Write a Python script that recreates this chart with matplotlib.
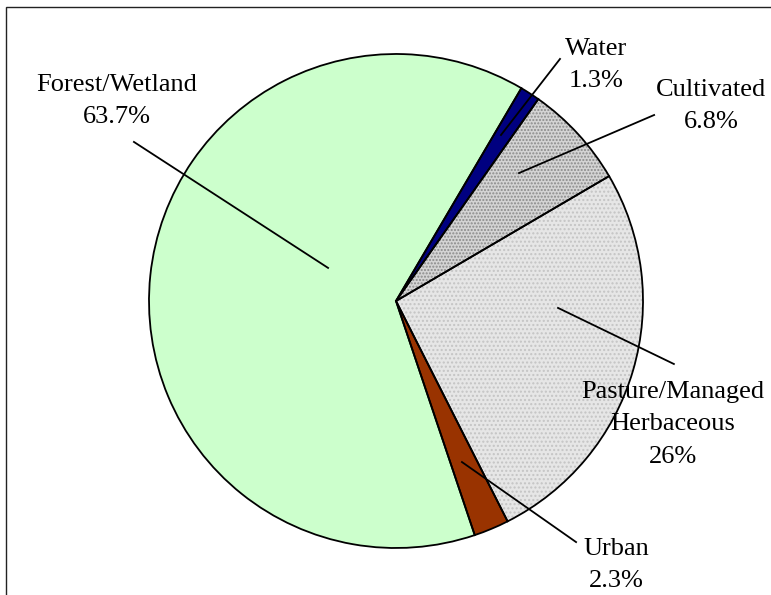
import matplotlib.pyplot as plt
from matplotlib.patches import Rectangle

# Land-use shares (percent), clockwise from the Water wedge
categories = ["Water", "Cultivated", "Pasture/Managed\nHerbaceous", "Urban", "Forest/Wetland"]
shares = [1.3, 6.8, 26.0, 2.3, 63.7]
share_labels = ["1.3%", "6.8%", "26%", "2.3%", "63.7%"]

colors = ["#000080", "#d4d4d4", "#e6e6e6", "#993300", "#ccffcc"]
hatches = [None, ".....", "....", None, None]
hatch_colors = ["#000080", "#8a8a8a", "#c4c4c4", "#993300", "#ccffcc"]

# label layout in pie units (radius = 1): text centre, leader start, leader end
text_pos = [(0.81, 0.955), (1.275, 0.79), (1.121, -0.50), (0.891, -1.07), (-1.132, 0.81)]
leader_from = [(0.425, 0.672), (0.498, 0.518), (0.656, -0.028), (0.267, -0.652), (-0.275, 0.134)]
leader_to = [(0.664, 0.980), (1.045, 0.753), (1.125, -0.255), (0.729, -0.976), (-1.061, 0.644)]

plt.rcParams["font.family"] = ["Liberation Serif", "DejaVu Serif"]

fig = plt.figure(figsize=(7.71, 5.95), dpi=100)
ax = fig.add_axes([0, 0, 1, 1])

# fills with stipple texture
fills, _ = ax.pie(shares, startangle=59.5, counterclock=False, colors=colors,
                  wedgeprops=dict(linewidth=0))
for w, h, hc in zip(fills, hatches, hatch_colors):
    if h:
        w.set_hatch(h)
        w.set_edgecolor(hc)

# outlines
ax.pie(shares, startangle=59.5, counterclock=False,
       wedgeprops=dict(fill=False, edgecolor="black", linewidth=1.3))

for name, pct, tp, p0, p1 in zip(categories, share_labels, text_pos, leader_from, leader_to):
    ax.plot([p0[0], p1[0]], [p0[1], p1[1]], color="black", linewidth=1.3)
    ax.text(tp[0], tp[1], name + "\n" + pct, ha="center", va="center",
            fontsize=19, linespacing=1.6)

ax.set_xlim(-396 / 247, (771 - 396) / 247)
ax.set_ylim((301 - 595) / 247, 301 / 247)
ax.set_aspect("auto")
ax.axis("off")

# chart-area frame (runs off the right and bottom edges)
fig.patches.append(Rectangle((6 / 771, -0.05), 1.1, 1 - 7 / 595 + 0.05,
                             transform=fig.transFigure, fill=False,
                             edgecolor="#222222", linewidth=1.0))

fig.savefig("out.png", dpi=100)
